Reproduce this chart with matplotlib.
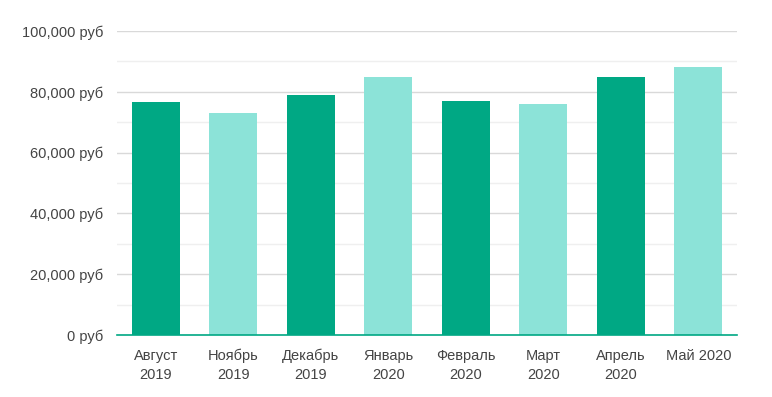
import matplotlib.pyplot as plt
from matplotlib.ticker import FuncFormatter, MultipleLocator

months = ["Август\n2019", "Ноябрь\n2019", "Декабрь\n2019", "Январь\n2020",
          "Февраль\n2020", "Март\n2020", "Апрель\n2020", "Май 2020"]
values = [76700, 73000, 78900, 84800, 77100, 76000, 84800, 88100]
colors = ["#00a884", "#8ce3d8"] * 4

plt.rcParams['font.family'] = ['Liberation Sans', 'DejaVu Sans']

fig = plt.figure(figsize=(7.72, 3.97), dpi=100)
ax = fig.add_axes([0.1516, 0.1562, 0.8031, 0.7657])

x = range(len(months))
ax.bar(x, values, width=0.62, color=colors, zorder=3)

ax.set_xlim(-0.5, len(months) - 0.5)
ax.set_ylim(0, 100000)
ax.yaxis.set_major_locator(MultipleLocator(20000))
ax.yaxis.set_minor_locator(MultipleLocator(10000))
ax.yaxis.set_major_formatter(FuncFormatter(lambda v, p: f"{int(v):,} руб"))
ax.grid(axis='y', which='major', color='#d9d9d9', linewidth=1, zorder=0)
ax.grid(axis='y', which='minor', color='#efefef', linewidth=1, zorder=0)

ax.set_xticks(list(x))
ax.set_xticklabels(months, linespacing=1.45)
ax.tick_params(axis='both', length=0, labelsize=10.5, colors='#444444')
ax.tick_params(axis='x', pad=10)
ax.tick_params(axis='y', pad=10)
ax.tick_params(axis='y', which='minor', length=0)

for s in ['top', 'right', 'left']:
    ax.spines[s].set_visible(False)
ax.spines['bottom'].set_color('#00a884')
ax.spines['bottom'].set_linewidth(1.2)
ax.spines['bottom'].set_zorder(4)

fig.savefig("out.png", dpi=100)
